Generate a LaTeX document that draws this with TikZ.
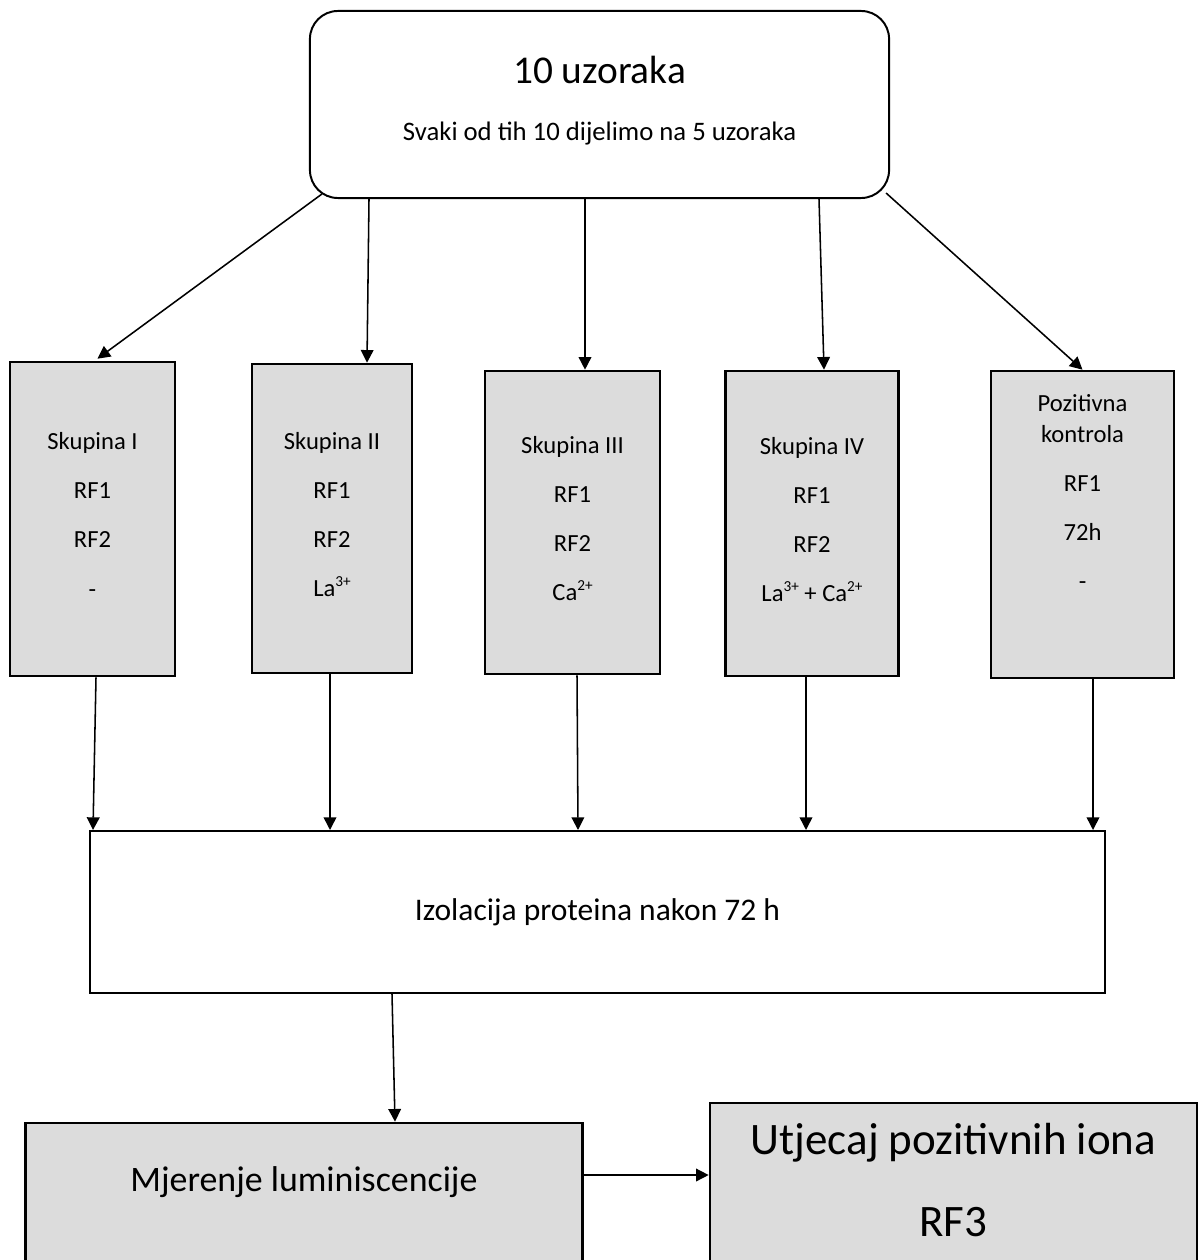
\documentclass[tikz,border=0pt]{standalone}
\usepackage{fontspec}
\setmainfont{Carlito}
\usetikzlibrary{arrows.meta,calc}
\definecolor{boxgray}{HTML}{DCDCDC}
\newcommand{\chg}[1]{\raisebox{0.42em}{\scalebox{0.62}{#1}}}
\tikzset{
  startbox/.style={draw=black,fill=white,rounded corners=0.7cm,line width=1.4pt,align=center,
    minimum width=14.475cm,minimum height=4.675cm,inner sep=0pt,text depth=9pt,
    font=\fontsize{19}{41}\selectfont},
  group/.style={draw=black,fill=boxgray,line width=1.8pt,align=center,inner sep=0pt,
    text depth=6pt,font=\fontsize{17.5}{35}\selectfont},
  isobox/.style={draw=black,fill=white,line width=1.4pt,align=center,inner sep=0pt,
    minimum width=25.375cm,minimum height=4.05cm,font=\fontsize{22.4}{27}\selectfont},
  result/.style={draw=black,fill=boxgray,line width=1.8pt,align=center,inner sep=0pt,anchor=base},
  arrow/.style={-{Triangle[length=9pt,width=9pt]},line width=1.1pt}
}
\begin{document}
\begin{tikzpicture}[x=0.025cm,y=-0.025cm]
  \path[use as bounding box] (0,0) rectangle (1200,1260);
  \clip (0,0) rectangle (1200,1260);
  \node[startbox] (start) at (599.5,104.5)
    {{\fontsize{28}{34}\selectfont 10 uzoraka}\\Svaki od tih 10 dijelimo na 5 uzoraka};
  \node[group,minimum width=4.125cm,minimum height=7.85cm] (g1) at (92.5,519)
    {Skupina I\\RF1\\RF2\\-};
  \node[group,minimum width=4.01cm,minimum height=7.725cm] (g2) at (332,518.5)
    {Skupina II\\RF1\\RF2\\La\chg{3+}};
  \node[group,minimum width=4.375cm,minimum height=7.575cm] (g3) at (572.5,522.5)
    {Skupina III\\RF1\\RF2\\Ca\chg{2+}};
  \node[group,minimum width=4.325cm,minimum height=7.625cm] (g4) at (812,523.5)
    {Skupina IV\\RF1\\RF2\\La\chg{3+} + Ca\chg{2+}};
  \node[group,minimum width=4.575cm,minimum height=7.675cm,text depth=46pt] (g5) at (1082.5,524.5)
    {Pozitivna\\[-13pt]kontrola\\RF1\\72h\\-};
  \node[isobox] (iso) at (597.5,912) {Izolacija proteina nakon 72 h};
  \node[result,minimum width=13.925cm,text height=48.4pt,text depth=80pt,
    font=\fontsize{25.5}{30}\selectfont] (lum) at (304,1191) {Mjerenje luminiscencije};
  \node[result,minimum width=12.175cm,text height=94.6pt,text depth=60pt,
    font=\fontsize{32}{58}\selectfont] (ion) at (953.5,1236) {Utjecaj pozitivnih iona\\RF3};
  \draw[arrow] ($(start.south west)+(13,-5)$) -- ($(g1.north)+(5,-2)$);
  \draw[arrow] (start.south -| 369,0) -- (g2.north -| 367,0);
  \draw[arrow] (start.south -| 585,0) -- (g3.north -| 585,0);
  \draw[arrow] (start.south -| 819,0) -- (g4.north -| 824,0);
  \draw[arrow] ($(start.south east)+(-4,-6)$) -- (g5.north);
  \foreach \g/\xa/\xb in {g1/96/93,g2/330/330,g3/577/578,g4/806/806,g5/1093/1093}
    \draw[arrow] (\g.south -| \xa,0) -- (iso.north -| \xb,0);
  \draw[arrow] (iso.south -| 392,0) -- (lum.north -| 395,0);
  \draw[arrow] (lum.east |- 0,1175) -- (ion.west |- 0,1175);
\end{tikzpicture}
\end{document}
